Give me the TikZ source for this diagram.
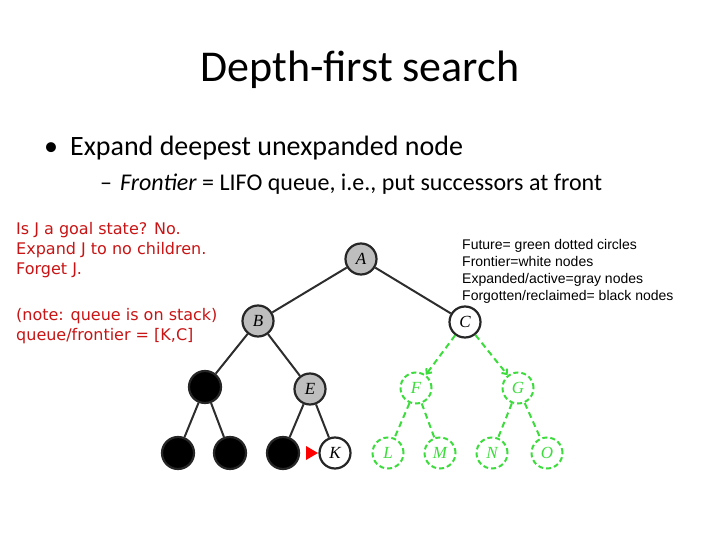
\documentclass[tikz,border=0pt]{standalone}
\usepackage{fontspec}
\setmainfont{Carlito}
\newfontfamily\redfont{DejaVu Sans}
\newfontfamily\legfont{Liberation Sans}
\newfontfamily\nodefont{Liberation Serif}
\usetikzlibrary{arrows.meta}
\definecolor{redtxt}{RGB}{200,20,20}
\definecolor{grn}{RGB}{60,220,60}
\definecolor{gryfill}{RGB}{190,190,190}
\definecolor{edgegray}{RGB}{45,45,45}
\tikzset{
  tnode/.style={circle,minimum size=31pt,inner sep=0pt,line width=2.2pt,draw=black!85,font=\nodefont\itshape\fontsize{17}{17}\selectfont},
  expanded/.style={tnode,fill=gryfill},
  frontier/.style={tnode,fill=white},
  forgotten/.style={tnode,fill=black,minimum size=32pt},
  future/.style={tnode,draw=grn,text=grn,dash pattern=on 5pt off 3pt,line width=2pt},
  tedge/.style={draw=edgegray,line width=2pt},
  fedge/.style={draw=grn,line width=2pt,dash pattern=on 6pt off 4pt},
  redtext/.style={font=\redfont\fontsize{16}{20}\selectfont,text=redtxt,align=left,anchor=north west,inner sep=0pt},
  legtext/.style={font=\legfont\fontsize{14}{17}\selectfont,align=left,anchor=north west,inner sep=0pt}
}
\begin{document}
\begin{tikzpicture}[x=1pt,y=-1pt]
\useasboundingbox (0,0) rectangle (720,540);
\node[font=\fontsize{44}{44}\selectfont] (title) at (360,70) {Depth-first search};
\node[anchor=west,font=\fontsize{28}{28}\selectfont,inner sep=0pt] (b1) at (44,148) {\textbullet\hspace{12pt}Expand deepest unexpanded node};
\node[anchor=west,font=\fontsize{24}{24}\selectfont,inner sep=0pt] (b2) at (100,184) {–\hspace{8pt}\textit{Frontier} = LIFO queue, i.e., put successors at front};
\node[redtext] (rt1) at (16,222) {Is J a goal state? No.\\Expand J to no children.\\Forget J.};
\node[redtext] (rt2) at (16,308) {(note: queue is on stack)\\queue/frontier = [K,C]};
\node[legtext] (leg) at (462,239) {Future= green dotted circles\\Frontier=white nodes\\Expanded/active=gray nodes\\Forgotten/reclaimed= black nodes};
% nodes
\node[expanded] (A) at (361,259) {A};
\node[expanded] (B) at (258,321) {B};
\node[frontier] (C) at (465,322) {C};
\node[forgotten] (D) at (205,387) {};
\node[expanded] (E) at (310,389) {E};
\node[future] (F) at (416,388) {F};
\node[future] (G) at (518,388) {G};
\node[forgotten] (H) at (178,453) {};
\node[forgotten] (I) at (230,453) {};
\node[forgotten] (J) at (283,453) {};
\node[frontier] (K) at (335,453) {K};
\node[future] (L) at (388,453) {L};
\node[future] (M) at (440,453) {M};
\node[future] (N) at (492,453) {N};
\node[future] (O) at (547,453) {O};
% edges
\draw[tedge] (A) -- (B);
\draw[tedge] (A) -- (C);
\draw[tedge] (B) -- (D);
\draw[tedge] (B) -- (E);
\draw[tedge] (D) -- (H);
\draw[tedge] (D) -- (I);
\draw[tedge] (E) -- (J);
\draw[tedge] (E) -- (K);
\draw[fedge,-{Straight Barb[length=4pt,width=7pt]}] (C) -- (F);
\draw[fedge,-{Straight Barb[length=4pt,width=7pt]}] (C) -- (G);
\draw[fedge] (F) -- (L);
\draw[fedge] (F) -- (M);
\draw[fedge] (G) -- (N);
\draw[fedge] (G) -- (O);
% pointer
\coordinate (ptr) at (306,453);
\fill[red] (ptr) ++(0,-7) -- ++(12,7) -- ++(-12,7) -- cycle;
\end{tikzpicture}
\end{document}
